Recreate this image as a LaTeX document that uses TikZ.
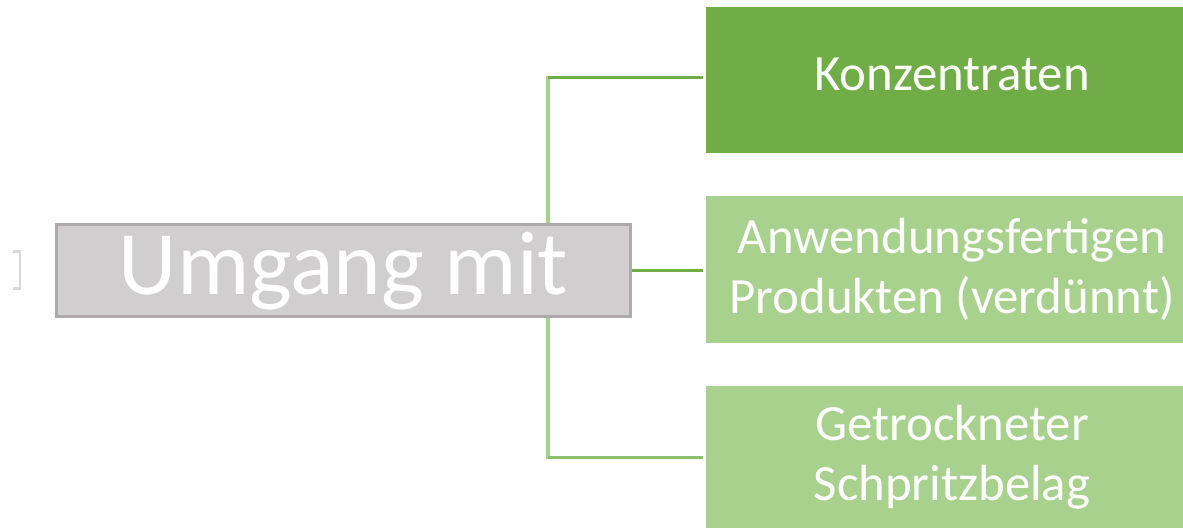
\documentclass[tikz,border=0pt]{standalone}
\usepackage{fontspec}
\setmainfont{Carlito}
\usetikzlibrary{backgrounds,calc}
\definecolor{gdark}{HTML}{70AD47}
\definecolor{glight}{HTML}{A9D18E}
\definecolor{gmid}{HTML}{8DC06C}
\definecolor{cfill}{HTML}{D0CECE}
\definecolor{cdraw}{HTML}{AEAAAA}
\definecolor{brk}{HTML}{D9D9D9}
\tikzset{
  ctrbox/.style={draw=cdraw, line width=3bp, fill=cfill, text=white,
    minimum width=574bp, minimum height=92bp, inner sep=0pt,
    font=\fontsize{91}{100}\selectfont, text height=66bp, text depth=17bp},
  leafbox/.style={text=white, inner sep=0pt, outer sep=0pt,
    minimum width=492bp, align=center,
    font=\fontsize{51}{60}\selectfont},
  conn/.style={line width=3bp},
}
\begin{document}
\begin{tikzpicture}[x=1bp,y=-1bp]
\useasboundingbox (0,0) rectangle (1183,529);
% faint bracket at left
\draw[brk, line width=2.5bp] (13,251.5) -- (20,251.5) -- (20,288.5) -- (13,288.5);
% nodes
\node[ctrbox] (ctr) at (343.5,270.5) {Umgang mit};
\node[leafbox, fill=gdark, minimum height=146bp, text height=35bp, text depth=13bp] (b1) at (952,80) {Konzentraten};
\node[leafbox, fill=glight, minimum height=147bp] (b2) at (952,269.5) {Anwendungsfertigen\\Produkten (verdünnt)};
\node[leafbox, fill=glight, minimum height=142bp] (b3) at (952,457) {Getrockneter\\Schpritzbelag};
\coordinate (sp) at (547.5,0);
\coordinate (sptop) at ($(b1.west -| sp)+(0,-3.5)$);
\coordinate (spbot) at ($(b3.west -| sp)+(0,1.5)$);
\begin{scope}[on background layer]
  \draw[glight, line width=4bp] (sptop) -- (spbot);
\end{scope}
\draw[conn, gdark, shorten >=3bp] ($(b1.west -| sp)+(0,-2)$) -- ($(b1.west)+(0,-2)$);
\draw[conn, gdark, shorten >=3bp] (ctr.east) -- (ctr.east -| b2.west);
\draw[conn, gmid, shorten >=3bp] (b3.west -| sp) -- (b3.west);
\end{tikzpicture}
\end{document}
